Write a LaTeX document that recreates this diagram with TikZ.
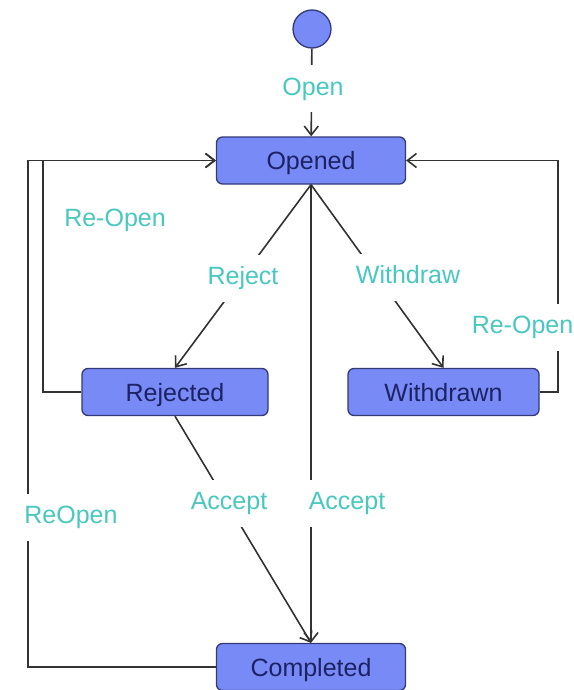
\documentclass[tikz,border=0pt]{standalone}
\usepackage{fontspec}
\setmainfont{Liberation Sans}
\usetikzlibrary{arrows.meta}
\definecolor{boxfill}{RGB}{120,138,245}
\definecolor{boxdraw}{RGB}{50,58,120}
\definecolor{boxtext}{RGB}{28,34,100}
\definecolor{lbl}{RGB}{72,200,190}
\definecolor{edgecol}{RGB}{50,50,50}
\begin{document}
\begin{tikzpicture}[x=1pt,y=-1pt,
  state/.style={draw=boxdraw, fill=boxfill, line width=1.3pt, rounded corners=6pt,
    text=boxtext, font=\fontsize{25}{30}\selectfont, inner sep=0pt, minimum height=47pt,
    text height=18pt, text depth=0pt},
  lab/.style={text=lbl, font=\fontsize{25}{30}\selectfont, fill=white,
    inner xsep=3pt, inner ysep=12pt, text height=18pt, text depth=5pt},
  conn/.style={draw=edgecol, line width=1.6pt, -{Straight Barb[length=9pt,width=14pt]}},
]
\useasboundingbox (0,0) rectangle (573,690);
\fill[white] (0,0) rectangle (573,690);

\node[circle, draw=boxdraw, fill=boxfill, line width=1.3pt, minimum size=38pt, inner sep=0pt] (init) at (312,29) {};
\node[state, minimum width=189pt] (opened) at (311,160.5) {Opened};
\node[state, minimum width=186pt] (rejected) at (175,392) {Rejected};
\node[state, minimum width=191pt] (withdrawn) at (443.5,392) {Withdrawn};
\node[state, minimum width=189pt] (completed) at (311,667) {Completed};

\coordinate (lout) at (28,160.5);
\coordinate (lin) at (43,160.5);
\coordinate (rout) at (558,160.5);

% initial
\draw[conn] (init) -- (opened) node[lab] (lopen) at (313,89) {Open};

% reject / withdraw
\draw[conn] (opened.south) -- (rejected.north) node[lab] (lreject) at (243,278) {Reject};
\draw[conn] (opened.south) -- (withdrawn.north) node[lab] (lwithdraw) at (408,277) {Withdraw};

% accepts
\draw[conn] (rejected.south) -- (completed.north) node[lab] (laccept1) at (229,503) {Accept};
\draw[conn] (opened.south) -- (completed.north) node[lab] (laccept2) at (347,503) {Accept};

% re-open loops
\draw[conn] (rejected.west) -| (lin) -- (opened.west) node[lab] (lreopen1) at (115,220) {Re-Open};
\draw[conn] (completed.west) -| (lout) -- (opened.west) node[lab] (lreopen2) at (71,517) {ReOpen};
\draw[conn] (withdrawn.east) -| (rout) -- (opened.east) node[lab] (lreopen3) at (522.5,327) {Re-Open};
\end{tikzpicture}
\end{document}
